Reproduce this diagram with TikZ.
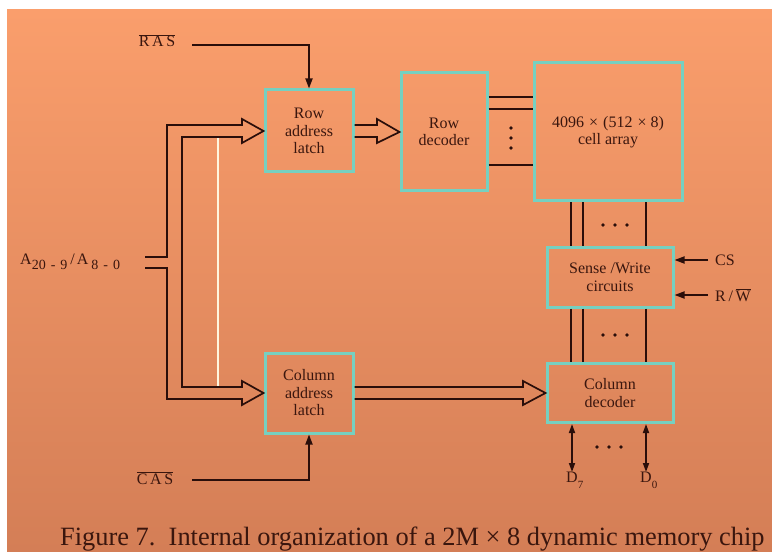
\documentclass[tikz,border=0pt]{standalone}
\usepackage{fontspec}
\setmainfont{Liberation Serif}
\usetikzlibrary{calc,arrows.meta}
\definecolor{bgtop}{RGB}{250,158,108}
\definecolor{bgbot}{RGB}{212,126,86}
\definecolor{boxc}{RGB}{118,208,192}
\definecolor{ink}{RGB}{42,14,10}
\definecolor{txt}{RGB}{58,22,14}
\definecolor{cream}{RGB}{255,246,222}
\begin{document}
\begin{tikzpicture}[x=1bp,y=-1bp,
  blk/.style={draw=boxc,line width=3bp,inner sep=0pt,align=center,text=txt,
    font=\fontsize{16bp}{17.5bp}\selectfont},
  wire/.style={draw=ink,line width=1.7bp},
  bus/.style={draw=ink,line width=1.7bp,line join=miter},
  sig/.style={draw=ink,line width=1.7bp,-{Triangle[length=10bp,width=7bp]}},
  dsig/.style={draw=ink,line width=1.7bp,
    {Triangle[length=9bp,width=6bp]}-{Triangle[length=9bp,width=6bp]}},
  lbl/.style={text=txt,font=\fontsize{16bp}{18bp}\selectfont,inner sep=2bp},
  dot/.style={fill=ink}]
\useasboundingbox (0,0) rectangle (772,552);
\clip (0,0) rectangle (772,552);
\fill[white] (0,0) rectangle (772,552);
\shade[top color=bgtop,bottom color=bgbot] (7,10) rectangle (772,552);

% blocks
\node[blk,minimum width=88bp,minimum height=82bp] (rowlatch) at (309,131) {Row\\address\\latch};
\node[blk,minimum width=86bp,minimum height=118bp] (rowdec) at (444,132) {Row\\decoder};
\node[blk,minimum width=148bp,minimum height=138bp] (cells) at (608,132)
  {4096\hspace{5bp}×\hspace{5bp}(512\hspace{5bp}×\hspace{4bp}8)\\cell array};
\node[blk,minimum width=126bp,minimum height=59bp] (sense) at (610,277.5) {Sense /Write\\circuits};
\node[blk,minimum width=126bp,minimum height=59bp] (coldec) at (610,393) {Column\\decoder};
\node[blk,minimum width=88bp,minimum height=80bp] (collatch) at (309,393) {Column\\address\\latch};

% labels
\node[lbl,anchor=base] (ras) at (157,47) {$\overline{\mbox{R\,A\,S}}$};
\node[lbl,anchor=base] (cas) at (155,484) {$\overline{\mbox{C\,A\,S}}$};
\node[lbl,anchor=west,inner sep=4bp] (cs) at (711,260) {CS};
\node[lbl,anchor=west,inner sep=4bp] (rw) at (711,295) {R\,/\,$\overline{\mbox{W}}$};
\node[lbl,anchor=base west,inner sep=0pt] (addr) at (20,265)
  {A\raisebox{-5bp}{\fontsize{14bp}{14bp}\selectfont 20\hspace{5bp}-\hspace{5bp}9}\hspace{3bp}/\hspace{2bp}A\raisebox{-5bp}{\fontsize{14bp}{14bp}\selectfont\hspace{3bp}8\hspace{5bp}-\hspace{5bp}0}};
\node[lbl,anchor=north,inner sep=0pt] (d7) at (572,472)
  {D\rlap{\raisebox{-6bp}{\fontsize{11bp}{11bp}\selectfont 7}}};
\node[lbl,anchor=north,inner sep=0pt] (d0) at (646,472)
  {D\rlap{\raisebox{-6bp}{\fontsize{11bp}{11bp}\selectfont 0}}};

% free ends
\coordinate (rasw) at (192,45);
\coordinate (casw) at (192,480);
\coordinate (ain1) at (145,257);
\coordinate (ain2) at (145,268);

% control signals
\draw[sig] (rasw) -| (rowlatch.north);
\draw[sig] (casw) -| (collatch.south);
\draw[sig] ($(cs.west)+(-3,0)$) -- (sense.east |- cs.west);
\draw[sig] ($(rw.west)+(-3,0)$) -- (sense.east |- rw.west);

% address bus from input to both latches
\draw[bus] (ain1) -- (167,257) -- (167,125) -- (242,125) -- (242,119) -- (rowlatch.west)
  -- (242,143) -- (242,137) -- (182,137) -- (182,387) -- (242,387) -- (242,381)
  -- (collatch.west) -- (242,405) -- (242,399) -- (167,399) -- (167,268) -- (ain2);
\draw[cream,line width=2.6bp] (218,138.5) -- (218,385.5);

% row latch -> row decoder
\draw[bus] ($(rowlatch.east)+(0,-6)$) -- (377,125) -- (377,119) -- (rowdec.west)
  -- (377,143) -- (377,137) -- ($(rowlatch.east)+(0,6)$);
% column latch -> column decoder
\draw[bus] ($(collatch.east)+(0,-6)$) -- (523,387) -- (523,381) -- (coldec.west)
  -- (523,405) -- (523,399) -- ($(collatch.east)+(0,6)$);

% row decoder -> cell array word lines
\foreach \dy in {-35,-23,33}
  \draw[wire] ($(rowdec.east)+(0,\dy)$) -- ($(cells.west)+(0,\dy)$);
\foreach \y in {128,138,148} \fill[dot] (511,\y) circle (1.8);

% bit lines
\foreach \x in {571,583,646} {
  \draw[wire] (\x,0 |- cells.south) -- (\x,0 |- sense.north);
  \draw[wire] (\x,0 |- sense.south) -- (\x,0 |- coldec.north);
}
\foreach \x in {603,615,627} {
  \fill[dot] (\x,225) circle (1.8);
  \fill[dot] (\x,335) circle (1.8);
}

% data lines
\draw[dsig] (coldec.south -| d7.north) -- (d7.north);
\draw[dsig] (coldec.south -| d0.north) -- (d0.north);
\foreach \x in {597,609,621} \fill[dot] (\x,447) circle (1.8);

% caption
\node[anchor=base west,inner sep=0pt,text=txt,font=\fontsize{26.4bp}{30bp}\selectfont] (cap)
  at (60,545) {Figure 7.\hspace{0.5em}Internal organization of a 2M × 8 dynamic memory chip};
\end{tikzpicture}
\end{document}
